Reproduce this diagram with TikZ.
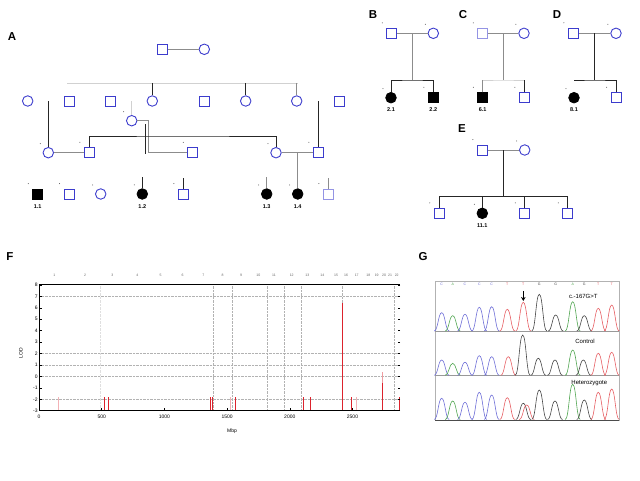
\documentclass[tikz,border=0pt]{standalone}
\usepackage{fontspec}
\setmainfont{Liberation Sans}
\usetikzlibrary{calc,arrows.meta,positioning}
\definecolor{pedblue}{RGB}{60,60,205}
\definecolor{lodred}{RGB}{220,35,45}
\definecolor{trblue}{RGB}{110,110,215}
\definecolor{trgreen}{RGB}{80,165,80}
\definecolor{trred}{RGB}{230,95,100}
\definecolor{trblack}{RGB}{70,70,70}
% one trace peak: centre x, base y, top y, colour
\newcommand{\peak}[4]{\draw[color=#4,line width=0.6pt]
  ({#1-7.5},#2) .. controls ({#1-3.8},#2) and ({#1-3.4},#3) .. (#1,#3)
  .. controls ({#1+3.4},#3) and ({#1+3.8},#2) .. ({#1+7.5},#2);}

\begin{document}
\begin{tikzpicture}[x=1pt,y=-1pt,
    male/.style={rectangle,draw=pedblue,line width=0.9pt,minimum size=10pt,inner sep=0pt,fill=white},
    female/.style={circle,draw=pedblue,line width=0.9pt,minimum size=10.5pt,inner sep=0pt,fill=white},
    aff/.style={draw=black,fill=black},
    pale/.style={draw=pedblue!55},
    pedline/.style={draw=black!85,line width=0.7pt},
    grey line/.style={draw=black!45,line width=0.7pt},
    faint/.style={draw=black!18,line width=0.7pt},
    panel/.style={font=\fontsize{11.5}{12}\selectfont\bfseries,inner sep=0pt},
    idlab/.style={font=\fontsize{5.5}{6}\selectfont\bfseries,inner sep=0pt},
    axislab/.style={font=\fontsize{5}{5}\selectfont,inner sep=1.2pt},
    baselab/.style={font=\fontsize{3.5}{4}\selectfont,inner sep=0pt}]
  \useasboundingbox (0,0) rectangle (640,480);

  % ---- A
  \node[panel] (labA) at (12,37) {A};
  \node[male] (a11) at (162.3,49.3) {};
  \node[female] (a12) at (204.3,49.3) {};
  \node[female] (a21) at (27.7,101) {};
  \node[male] (a22) at (69,101) {};
  \node[male] (a23) at (110.7,101) {};
  \node[female] (a24) at (152.3,101) {};
  \node[male] (a25) at (204,101) {};
  \node[female] (a26) at (245.7,101) {};
  \node[female] (a27) at (296.7,101) {};
  \node[male] (a28) at (339,101) {};
  \node[female] (a3x) at (131.7,120.7) {};
  \node[female] (a31) at (48.3,152.7) {};
  \node[male] (a32) at (89.3,152.7) {};
  \node[male] (a33) at (192.7,152.7) {};
  \node[female] (a34) at (276,152.7) {};
  \node[male] (a35) at (318.3,152.7) {};
  \node[male,aff] (a41) at (37.7,194) {};
  \node[male] (a42) at (69,194) {};
  \node[female] (a43) at (100.7,194) {};
  \node[female,aff] (a44) at (142.3,194) {};
  \node[male] (a45) at (183.3,194) {};
  \node[female,aff] (a46) at (266.7,194) {};
  \node[female,aff] (a47) at (297.7,194) {};
  \node[male,pale] (a48) at (328.3,194) {};
  \node[idlab,below=5pt of a41] {1.1};
  \node[idlab,below=5pt of a44] {1.2};
  \node[idlab,below=5pt of a46] {1.3};
  \node[idlab,below=5pt of a47] {1.4};

  \coordinate (sA1) at (67,83.3);
  \coordinate (sA2) at (298,83.3);
  \coordinate (mA) at (183,136);
  \coordinate (kA) at (148.3,152.7);
  \coordinate (dA) at (145.7,124);
  \draw[grey line] (a11) -- (a12);
  \draw[pedline] ($(a11)!0.5!(a12)$) -- ($(a11)!0.5!(a12)$ |- sA1);
  \draw[faint] (sA1) -- (sA2);
  \draw[pedline] (sA1 -| a24) -- (a24);
  \draw[pedline] (sA1 -| a26) -- (a26);
  \draw[grey line] (sA1 -| a27) -- (a27);
  \draw[pedline] (a31 |- a21) -- (a31);
  \draw[pedline] (a35 |- a28) -- (a35);
  \draw[faint] (a3x.north) -- (a3x |- a21);
  \draw[grey line] (a3x) -| (kA) -- (a33);
  \draw[pedline] (dA) -- ++(0,30);
  \draw[pedline] (a32) |- (mA) -| (a34);
  \draw[grey line] (a31) -- (a32);
  \draw[grey line] (a34) -- (a35);
  \draw[grey line] (a47 |- a34) -- (a47);
  \draw[pedline] (a44.north) -- ++(0,-11);
  \draw[pedline] (a45.north) -- ++(0,-11);
  \draw[grey line] (a46.north) -- ++(0,-11);
  \draw[grey line] (a48.north) -- ++(0,-11);

  % ---- B, C, D
  \node[panel] (labB) at (373,15) {B};
  \node[male] (b1) at (391.7,33.3) {};
  \node[female] (b2) at (433.3,33.3) {};
  \node[female,aff] (b3) at (391,97.7) {};
  \node[male,aff] (b4) at (433.3,97.7) {};
  \node[idlab,below=4.5pt of b3] {2.1};
  \node[idlab,below=4.5pt of b4] {2.2};
  \draw[grey line] (b1) -- (b2);
  \draw[grey line] ($(b1)!0.5!(b2)$) -- ++(0,46.7) coordinate (bs);
  \draw[pedline] (b3) |- (bs) -| (b4);

  \node[panel] (labC) at (463,15) {C};
  \node[male,pale] (c1) at (482.7,33.3) {};
  \node[female] (c2) at (524,33.3) {};
  \node[male,aff] (c3) at (482.7,97.7) {};
  \node[male] (c4) at (524.3,97.7) {};
  \node[idlab,below=4.5pt of c3] {6.1};
  \draw[grey line] (c1) -- (c2);
  \draw[grey line] ($(c1)!0.5!(c2)$) -- ++(0,46.7) coordinate (cs);
  \draw[faint] (c3) |- (cs) -| (c4);
  \draw[pedline] (c4) -- (c4 |- cs);
  \draw[grey line] (c3) -- (c3 |- cs);

  \node[panel] (labD) at (557,15) {D};
  \node[male] (d1) at (573.3,33.3) {};
  \node[female] (d2) at (616,33.3) {};
  \node[female,aff] (d3) at (574,97.7) {};
  \node[male] (d4) at (616,97.7) {};
  \node[idlab,below=4.5pt of d3] {8.1};
  \draw[grey line] (d1) -- (d2);
  \draw[pedline] ($(d1)!0.5!(d2)$) -- ++(0,46.7) coordinate (ds);
  \draw[pedline] (d3 |- ds) -- (ds) -| (d4);

  % ---- E
  \node[panel] (labE) at (462,129) {E};
  \node[male] (e1) at (482.3,150) {};
  \node[female] (e2) at (524.7,150) {};
  \node[male] (e3) at (439.3,213.3) {};
  \node[female,aff] (e4) at (482.3,213.3) {};
  \node[male] (e5) at (524.7,213.3) {};
  \node[male] (e6) at (567.7,213.3) {};
  \node[idlab,below=4.5pt of e4] {11.1};
  \draw[grey line] (e1) -- (e2);
  \draw[pedline] ($(e1)!0.5!(e2)$) -- ++(0,46.7) coordinate (es);
  \draw[pedline] (e3) |- (es) -| (e6);
  \draw[pedline] (e4) -- (e4 |- es);
  \draw[pedline] (e5) -- (e5 |- es);

  % small marks by the individuals
  \foreach \n in {a3x,a31,a32,a33,a34,a35,a41,a42,a43,a44,a45,a46,a47,a48,
                  b1,b2,b3,b4,c1,c2,c3,c4,d1,d2,d3,d4,e1,e2,e3,e4,e5,e6}
    \fill[black!70] (\n.north west) ++(-4,-5) circle (0.5);

  % ---- F
  \node[panel] (labF) at (10,257) {F};
  \begin{scope}[shift={(39,376.4)},x=0.1254pt,y=11.43pt]
    \foreach \l in {7,2,1,0,-2}
      \draw[gray!60,densely dotted,line width=0.4pt] (0,\l) -- (2879,\l);
    \foreach \c in {1390,1541,1816,1954,2089,2414,2833}
      \draw[gray!60,densely dotted,line width=0.4pt] (\c,-3) -- (\c,8);
    \draw[gray!25,densely dotted,line width=0.4pt] (492,-3) -- (492,8);
    \foreach \c in {526,558,1364,1382,1569,2108,2167,2494,2871}
      \draw[lodred,line width=1pt] (\c,-3) -- (\c,-1.78);
    \foreach \c in {154,1529,2533}
      \draw[lodred!35,line width=1pt] (\c,-3) -- (\c,-1.78);
    \draw[lodred,line width=1.3pt] (2419,-3) -- (2419,6.45);
    \draw[lodred!45,line width=1pt] (2738,-3) -- (2738,0.4);
    \draw[lodred,line width=1pt] (2738,-3) -- (2738,-0.6);
    \draw[line width=1pt] (0,8) -- (2879,8);
    \draw[line width=1pt] (0,-3) -- (2879,-3);
    \draw[line width=0.7pt] (0,-3) -- (0,8);
    \foreach \l in {-3,...,8} {
      \draw[line width=0.5pt] (0,\l) -- ++(20,0);
      \draw[line width=0.5pt] (2879,\l) -- ++(-20,0);
      \node[axislab,anchor=east] at (0,\l) {\l};
    }
    \foreach \c in {0,500,...,2500} {
      \draw[line width=0.5pt] (\c,-3) -- ++(0,0.25);
      \node[axislab,anchor=north,yshift=-2.5pt] at (\c,-3) {\c};
    }
  \end{scope}
  \node[axislab,rotate=90] (lod) at (21,353) {LOD};
  \node[axislab] (mbp) at (232,431) {Mbp};
  \foreach \p [count=\i] in {54.3,85,112.3,137.3,160.7,182.7,203.3,222.7,241,258.3,274,291.7,
                               307.3,322.3,336,346,356.7,368.3,376.7,384,390,396.7}
    \node[baselab,text=black!60] at (\p,275) {\i};

  % ---- G
  \node[panel] (labG) at (423,257) {G};
  \draw[gray!60,line width=0.6pt] (435,281.7) rectangle (619.3,420);
  \draw[gray!80,line width=0.6pt] (435,331.3) -- (619.3,331.3);
  \draw[gray!80,line width=0.6pt] (435,375.7) -- (619.3,375.7);
  \draw[black!70,line width=0.8pt] (435,420) -- (619.3,420);
  \foreach \xp/\ytop/\pcol in {441.7/312.7/trblue,452.7/315.7/trgreen,465/314.3/trblue,479.3/307.3/trblue,
      491.7/306.7/trblue,507.3/309.3/trred,523.3/302.3/trred,539.3/294.3/trblack,555.7/315/trblack,
      572.7/301.7/trgreen,584.3/315.7/trblack,598.3/308.3/trred,611.7/305/trred}
    {\peak{\xp}{331}{\ytop}{\pcol}}
  \foreach \xp/\ytop/\pcol in {441.7/360/trblue,452.7/363.3/trgreen,465/362.3/trblue,479.3/355.7/trblue,
      491.7/356.7/trblue,508.3/356.7/trred,522.7/335/trblack,538.3/358.3/trblack,555/360/trblack,
      572.7/350/trgreen,583.3/360/trblack,598.3/353.3/trred,611.7/352.3/trred}
    {\peak{\xp}{375.3}{\ytop}{\pcol}}
  \foreach \xp/\ytop/\pcol in {441.7/398.3/trblue,452.7/401/trgreen,465/402.3/trblue,479.3/392.3/trblue,
      491.7/395/trblue,507.3/397.7/trred,523.3/403.3/trblack,526.7/405/trred,539.3/390/trblack,
      555/401/trblack,572.7/384.3/trgreen,584.3/400/trblack,598.3/392.3/trred,611.7/389/trred}
    {\peak{\xp}{419.5}{\ytop}{\pcol}}
  \foreach \xp in {441.7,465,479.3,491.7}
    \node[baselab,text=trblue] at (\xp,284.5) {C};
  \foreach \xp in {452.7,572.7}
    \node[baselab,text=trgreen] at (\xp,284.5) {A};
  \foreach \xp in {507.3,523.3,598.3,611.7}
    \node[baselab,text=trred] at (\xp,284.5) {T};
  \foreach \xp in {539.3,555.7,584.3}
    \node[baselab,text=trblack] at (\xp,284.5) {G};
  \coordinate (arr) at (523.3,291);
  \draw[-{Stealth[length=4pt,width=4.5pt]},line width=1.2pt] (arr) -- ++(0,10);
  \node[font=\fontsize{6}{6}\selectfont,inner sep=0pt] (mut) at (583.3,296) {c.-167G>T};
  \node[font=\fontsize{6}{6}\selectfont,inner sep=0pt] (ctl) at (585,341.7) {Control};
  \node[font=\fontsize{6}{6}\selectfont,inner sep=0pt] (het) at (589.3,383.3) {Heterozygote};
\end{tikzpicture}
\end{document}
